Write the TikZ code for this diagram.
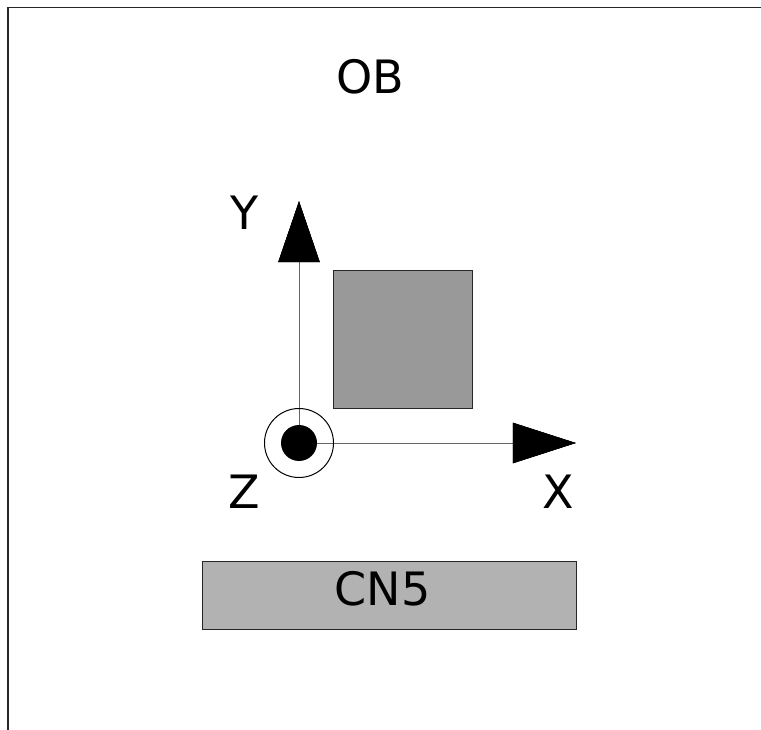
\documentclass[tikz,border=0pt]{standalone}
\usepackage{fontspec}
\setmainfont{DejaVu Sans}
\begin{document}
\begin{tikzpicture}[x=1pt,y=-1pt,
  lbl/.style={font=\fontsize{46}{50}\selectfont, anchor=base, inner sep=0pt},
  box/.style={draw=black!85, line width=1pt, inner sep=0pt, anchor=north west},
  axis/.style={draw=black!60, line width=1pt},
  head/.style={fill=black, draw=black, line width=0.5pt}]
\useasboundingbox (0,0) rectangle (761,730);
% frame
\draw[line width=1.6pt, black!85] (8,730) -- (8,7.5) -- (761,7.5);
% origin
\coordinate (O) at (299,443);
\coordinate (ytip) at (299,202);
\coordinate (ybase) at (299,262);
\coordinate (xtip) at (575,443);
\coordinate (xbase) at (513,443);
% gray square
\node[box, fill=black!40, minimum width=139pt, minimum height=138pt] (sq) at (333,270) {};
% CN5 box
\node[box, fill=black!30, minimum width=374pt, minimum height=68pt] (cn) at (202,561) {};
\node[lbl] (cnl) at (382.5,605) {CN5};
% axes
\draw[axis] (O) -- (ybase);
\draw[axis] (O) -- (xbase);
\fill[head] (ytip) -- (278.5,262) -- (319.5,262) -- cycle;
\fill[head] (xtip) -- (513,423) -- (513,463) -- cycle;
\draw[head] (ytip) -- (278.5,262) -- (319.5,262) -- cycle;
\draw[head] (xtip) -- (513,423) -- (513,463) -- cycle;
% z symbol
\draw[black, line width=1pt] (O) circle[radius=34.5];
\fill[black] (O) circle[radius=18];
% labels
\node[lbl] (ob) at (370,93.5) {OB};
\node[lbl] (yl) at (244.5,230) {Y};
\node[lbl] (zl) at (244.5,508) {Z};
\node[lbl] (xl) at (558,508) {X};
\end{tikzpicture}
\end{document}
